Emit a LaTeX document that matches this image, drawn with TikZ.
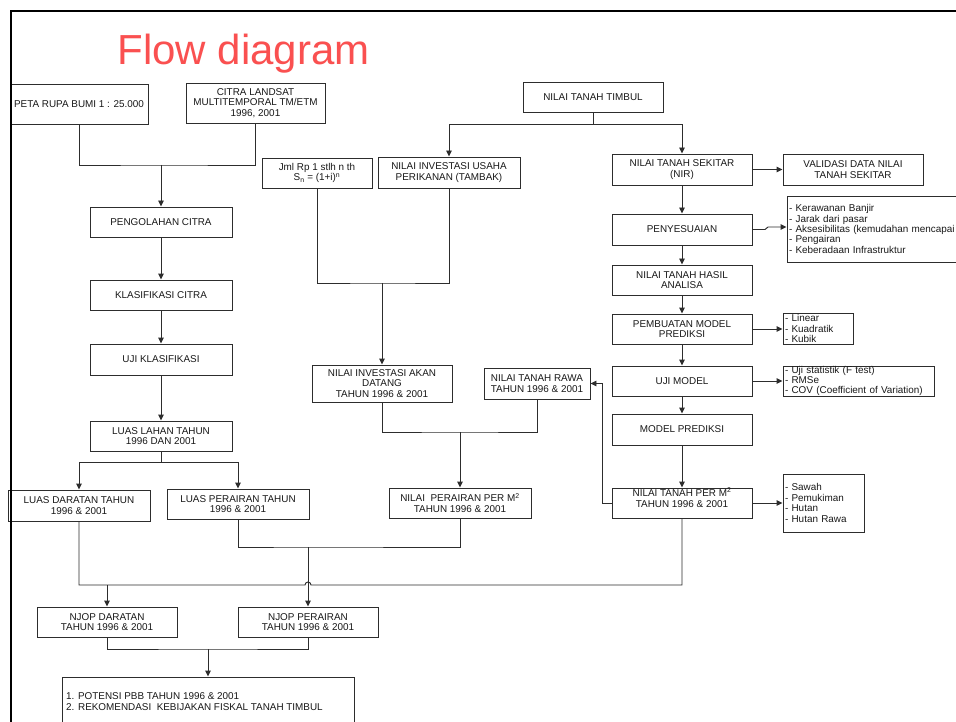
\documentclass[tikz,border=0pt]{standalone}
\usepackage{fontspec}
\setmainfont{Liberation Sans}
\usetikzlibrary{arrows.meta}
\definecolor{titlered}{RGB}{250,80,80}
\definecolor{ln}{RGB}{45,45,45}
\definecolor{tx}{RGB}{25,25,25}
\newcommand\FsBox{\fontsize{9.9}{10.7}\selectfont}
\newcommand\FsList{\fontsize{9.9}{10.4}\selectfont}
\newcommand\BoxAt[6]{\node[box, minimum width={(#4-#2)*1pt}, minimum height={(#5-#3)*1pt}] (#1) at ({(#2+#4)/2},{(#3+#5)/2}) {#6};}
\newcommand\ListAt[6]{\node[lbox, text width={(#4-#2-4)*1pt}, minimum height={(#5-#3)*1pt}] (#1) at ({(#2+#4)/2},{(#3+#5)/2}) {#6};}
\begin{document}
\begin{tikzpicture}[x=1pt,y=-1pt,
  box/.style={draw=ln,line width=0.95pt,rectangle,inner sep=0pt,align=center,text=tx,font=\FsBox},
  lbox/.style={draw=ln,line width=0.95pt,rectangle,inner xsep=2pt,inner ysep=0pt,align=left,text=tx,font=\FsList},
  txt/.style={inner sep=0pt,align=center,text=tx,font=\FsBox},
  wire/.style={draw=ln,line width=0.95pt},
  arr/.style={wire,-{Triangle[length=6pt,width=5.5pt]}}]
\useasboundingbox (0,0) rectangle (956,722);
\clip (0,0) rectangle (956,722);
\fill[white] (0,0) rectangle (956,722);

% title
\node[font=\fontsize{42}{42}\selectfont, text=titlered, anchor=base, inner sep=0pt] (title) at (243.5,65) {Flow diagram};

% left column
\BoxAt{peta}{10}{84}{148}{124}{PETA RUPA BUMI 1 : 25.000}
\BoxAt{citra}{186}{83}{325}{123}{CITRA LANDSAT\\MULTITEMPORAL TM/ETM\\1996, 2001}
\BoxAt{peng}{90}{207}{232}{237}{PENGOLAHAN CITRA}
\BoxAt{klas}{90}{280}{232}{310}{KLASIFIKASI CITRA}
\BoxAt{ujik}{90}{344}{232}{375}{UJI KLASIFIKASI}
\BoxAt{luas}{90}{421}{232}{451}{LUAS LAHAN TAHUN\\1996 DAN 2001}
\BoxAt{dar}{8}{490}{150}{521}{LUAS DARATAN TAHUN\\1996 \& 2001}
\BoxAt{lper}{167}{489}{309}{519}{LUAS PERAIRAN TAHUN\\1996 \& 2001}
\BoxAt{njd}{37}{607}{177}{637}{NJOP DARATAN\\TAHUN 1996 \& 2001}
\BoxAt{njp}{238}{607}{378}{637}{NJOP PERAIRAN\\TAHUN 1996 \& 2001}
\BoxAt{final}{62}{677}{354}{745}{}
\node[txt, anchor=west, align=left] (finaltext) at (66,701.5) {1. POTENSI PBB TAHUN 1996 \& 2001\\2. REKOMENDASI~ KEBIJAKAN FISKAL TANAH TIMBUL};

% middle column
\BoxAt{jml}{262}{158}{372}{188}{Jml Rp 1 stlh n th\\S\textsubscript{n} = (1+i)\textsuperscript{n}}
\BoxAt{invus}{378}{157}{520}{188}{NILAI INVESTASI USAHA\\PERIKANAN (TAMBAK)}
\BoxAt{timbul}{523}{82}{663}{112}{NILAI TANAH TIMBUL}
\BoxAt{akan}{312}{365}{452}{402}{NILAI INVESTASI AKAN\\DATANG\\TAHUN 1996 \& 2001}
\BoxAt{rawa}{484}{368}{590}{399}{NILAI TANAH RAWA\\TAHUN 1996 \& 2001}
\BoxAt{nper}{389}{488}{531}{518}{NILAI~ PERAIRAN PER M\textsuperscript{2}\\TAHUN 1996 \& 2001}

% right column
\BoxAt{nir}{612}{154}{752}{185}{NILAI TANAH SEKITAR\\(NIR)}
\BoxAt{valid}{783}{154}{923}{185}{VALIDASI DATA NILAI\\TANAH SEKITAR}
\BoxAt{peny}{612}{214}{752}{245}{PENYESUAIAN}
\BoxAt{hasil}{612}{265}{752}{295}{NILAI TANAH HASIL\\ANALISA}
\BoxAt{pemb}{612}{314}{752}{344}{PEMBUATAN MODEL\\PREDIKSI}
\BoxAt{ujim}{612}{366}{752}{396}{UJI MODEL}
\BoxAt{modp}{612}{414}{752}{445}{MODEL PREDIKSI}
\BoxAt{ntpm}{612}{488}{752}{518}{}
\node[txt] (ntpmtext) at (682,497.5) {NILAI TANAH PER M\textsuperscript{2}\\TAHUN 1996 \& 2001};

\ListAt{list1}{787}{196}{975}{262}{- Kerawanan Banjir\\- Jarak dari pasar\\- Aksesibilitas (kemudahan mencapai\\- Pengairan\\- Keberadaan Infrastruktur}
\ListAt{lin}{783}{313}{853}{344}{- Linear\\- Kuadratik\\- Kubik}
\ListAt{ujil}{783}{366}{934}{396}{- Uji statistik (F test)\\- RMSe\\- COV (Coefficient of Variation)}
\ListAt{sawah}{783}{474}{864}{532}{- Sawah\\- Pemukiman\\- Hutan\\- Hutan Rawa}

% connectors, left
\coordinate (j1) at (161,165);
\draw[wire] (peta.south) |- (j1) -| (citra.south);
\draw[arr] (j1) -- (peng.north);
\draw[arr] (peng.south) -- (klas.north);
\draw[arr] (klas.south) -- (ujik.north);
\draw[arr] (ujik.south) -- (luas.north);
\coordinate (j2) at (161,462);
\draw[wire] (luas.south) -- (j2);
\draw[arr] (j2) -| (dar.north);
\draw[arr] (j2) -| (lper.north);

% connectors, middle
\coordinate (j3) at (593,124);
\draw[wire] (timbul.south) -- (j3);
\draw[arr] (j3) -| (invus.north);
\draw[arr] (j3) -| (nir.north);
\coordinate (j4) at (382,283);
\draw[wire] (jml.south) |- (j4) -| (invus.south);
\draw[arr] (j4) -- (akan.north);
\coordinate (j5) at (460,432);
\draw[wire] (akan.south) |- (j5) -| (rawa.south);
\draw[arr] (j5) -- (nper.north);

% connectors, right
\draw[arr] (nir.east) -- (valid.west);
\draw[arr] (nir.south) -- (peny.north);
\draw[arr] (peny.south) -- (hasil.north);
\draw[arr] (hasil.south) -- (pemb.north);
\draw[arr] (pemb.south) -- (ujim.north);
\draw[arr] (ujim.south) -- (modp.north);
\draw[arr] (modp.south) -- (ntpm.north);
\coordinate (k1) at (765,229.5);
\coordinate (k2) at (768,227);
\draw[arr] (peny.east) -- (k1) -- (k2) -- (k2 -| list1.west);
\draw[arr] (pemb.east) -- (pemb.east -| lin.west);
\draw[arr] (ujim.east) -- (ujim.east -| ujil.west);
\draw[arr] (ntpm.east) -- (ntpm.east -| sawah.west);
\coordinate (k3) at (602,503);
\draw[arr] (ntpm.west) -- (k3) |- (rawa.east);

% connectors, bottom
\coordinate (j6) at (308,547);
\draw[wire] (lper.south) |- (j6) -| (nper.south);
\draw[arr] (j6) -- (njp.north);
\coordinate (hl) at (305,585);
\draw[wire] (dar.south) |- (hl) arc[start angle=180,end angle=360,radius=3] -| (ntpm.south);
\coordinate (j8) at (107,585);
\draw[arr] (j8) -- (njd.north);
\coordinate (j7) at (208,649);
\draw[wire] (njd.south) |- (j7) -| (njp.south);
\draw[arr] (j7) -- (final.north);

% frame
\draw[line width=2.6pt, black] (11,745) -- (11,11) -- (975,11);
\end{tikzpicture}
\end{document}
